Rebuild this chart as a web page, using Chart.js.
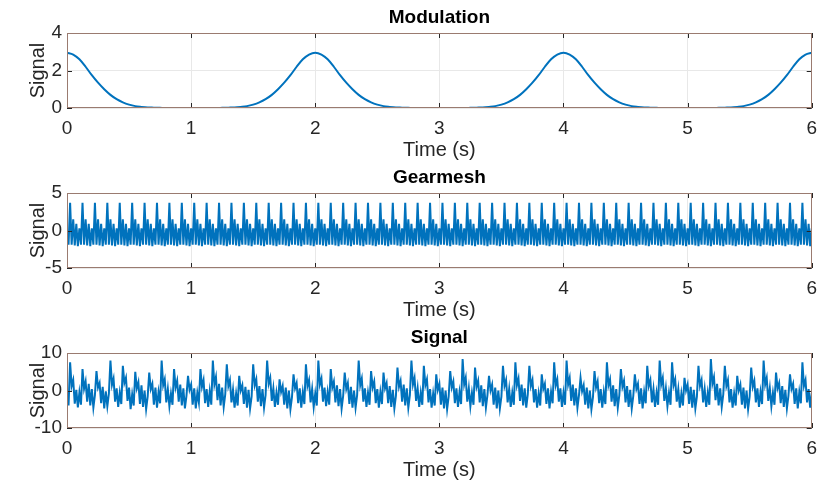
<!DOCTYPE html>
<html lang="en">
<head>
<meta charset="UTF-8">
<title>Modulation, Gearmesh and Signal</title>
<script src="https://cdn.jsdelivr.net/npm/chart.js"></script>
<style>
    body {
        margin: 0;
        background: #fff;
        overflow: hidden;
        font-family: 'Liberation Sans', Arial, sans-serif;
    }
    .panel {
        position: absolute;
        left: 0;
        width: 826px;
        height: 160px;
    }
</style>
</head>
<body>
<div class="panel" style="top:0px"><canvas id="modChart" width="826" height="160"></canvas></div>
<div class="panel" style="top:160px"><canvas id="gearChart" width="826" height="160"></canvas></div>
<div class="panel" style="top:320px"><canvas id="sigChart" width="826" height="160"></canvas></div>

<script>
// time axis (seconds)
const timeStart = 0;
const timeEnd = 6;

// Modulation, sampled every 0.05 s
const modulation = [
    2.95, 2.85, 2.6, 2.2, 1.75, 1.35, 1.0, 0.7, 0.47, 0.3, 0.18, 0.1, 0.06, 0.03, 0.02, 0.01,
    0, 0, 0, 0, 0, 0, 0, 0, 0,
    0.01, 0.02, 0.03, 0.06, 0.1, 0.18, 0.3, 0.47, 0.7, 1.0, 1.35, 1.75, 2.2, 2.6, 2.85, 2.95,
    2.85, 2.6, 2.2, 1.75, 1.35, 1.0, 0.7, 0.47, 0.3, 0.18, 0.1, 0.06, 0.03, 0.02, 0.01,
    0, 0, 0, 0, 0, 0, 0, 0, 0,
    0.01, 0.02, 0.03, 0.06, 0.1, 0.18, 0.3, 0.47, 0.7, 1.0, 1.35, 1.75, 2.2, 2.6, 2.85, 2.95,
    2.85, 2.6, 2.2, 1.75, 1.35, 1.0, 0.7, 0.47, 0.3, 0.18, 0.1, 0.06, 0.03, 0.02, 0.01,
    0, 0, 0, 0, 0, 0, 0, 0, 0,
    0.01, 0.02, 0.03, 0.06, 0.1, 0.18, 0.3, 0.47, 0.7, 1.0, 1.35, 1.75, 2.2, 2.6, 2.85, 2.95
];

// Gearmesh, sampled every 0.0125 s
const gearmesh = [
    0,
    -1.9, 3.7, -1.9, 1.5, -2.0, 0.9, -2.1, 0.3,
    -1.9, 3.7, -1.9, 1.5, -2.0, 0.9, -2.1, 0.3,
    -1.9, 3.7, -1.9, 1.5, -2.0, 0.9, -2.1, 0.3,
    -1.9, 3.7, -1.9, 1.5, -2.0, 0.9, -2.1, 0.3,
    -1.9, 3.7, -1.9, 1.5, -2.0, 0.9, -2.1, 0.3,
    -1.9, 3.7, -1.9, 1.5, -2.0, 0.9, -2.1, 0.3,
    -1.9, 3.7, -1.9, 1.5, -2.0, 0.9, -2.1, 0.3,
    -1.9, 3.7, -1.9, 1.5, -2.0, 0.9, -2.1, 0.3,
    -1.9, 3.7, -1.9, 1.5, -2.0, 0.9, -2.1, 0.3,
    -1.9, 3.7, -1.9, 1.5, -2.0, 0.9, -2.1, 0.3,
    -1.9, 3.7, -1.9, 1.5, -2.0, 0.9, -2.1, 0.3,
    -1.9, 3.7, -1.9, 1.5, -2.0, 0.9, -2.1, 0.3,
    -1.9, 3.7, -1.9, 1.5, -2.0, 0.9, -2.1, 0.3,
    -1.9, 3.7, -1.9, 1.5, -2.0, 0.9, -2.1, 0.3,
    -1.9, 3.7, -1.9, 1.5, -2.0, 0.9, -2.1, 0.3,
    -1.9, 3.7, -1.9, 1.5, -2.0, 0.9, -2.1, 0.3,
    -1.9, 3.7, -1.9, 1.5, -2.0, 0.9, -2.1, 0.3,
    -1.9, 3.7, -1.9, 1.5, -2.0, 0.9, -2.1, 0.3,
    -1.9, 3.7, -1.9, 1.5, -2.0, 0.9, -2.1, 0.3,
    -1.9, 3.7, -1.9, 1.5, -2.0, 0.9, -2.1, 0.3,
    -1.9, 3.7, -1.9, 1.5, -2.0, 0.9, -2.1, 0.3,
    -1.9, 3.7, -1.9, 1.5, -2.0, 0.9, -2.1, 0.3,
    -1.9, 3.7, -1.9, 1.5, -2.0, 0.9, -2.1, 0.3,
    -1.9, 3.7, -1.9, 1.5, -2.0, 0.9, -2.1, 0.3,
    -1.9, 3.7, -1.9, 1.5, -2.0, 0.9, -2.1, 0.3,
    -1.9, 3.7, -1.9, 1.5, -2.0, 0.9, -2.1, 0.3,
    -1.9, 3.7, -1.9, 1.5, -2.0, 0.9, -2.1, 0.3,
    -1.9, 3.7, -1.9, 1.5, -2.0, 0.9, -2.1, 0.3,
    -1.9, 3.7, -1.9, 1.5, -2.0, 0.9, -2.1, 0.3,
    -1.9, 3.7, -1.9, 1.5, -2.0, 0.9, -2.1, 0.3,
    -1.9, 3.7, -1.9, 1.5, -2.0, 0.9, -2.1, 0.3,
    -1.9, 3.7, -1.9, 1.5, -2.0, 0.9, -2.1, 0.3,
    -1.9, 3.7, -1.9, 1.5, -2.0, 0.9, -2.1, 0.3,
    -1.9, 3.7, -1.9, 1.5, -2.0, 0.9, -2.1, 0.3,
    -1.9, 3.7, -1.9, 1.5, -2.0, 0.9, -2.1, 0.3,
    -1.9, 3.7, -1.9, 1.5, -2.0, 0.9, -2.1, 0.3,
    -1.9, 3.7, -1.9, 1.5, -2.0, 0.9, -2.1, 0.3,
    -1.9, 3.7, -1.9, 1.5, -2.0, 0.9, -2.1, 0.3,
    -1.9, 3.7, -1.9, 1.5, -2.0, 0.9, -2.1, 0.3,
    -1.9, 3.7, -1.9, 1.5, -2.0, 0.9, -2.1, 0.3,
    -1.9, 3.7, -1.9, 1.5, -2.0, 0.9, -2.1, 0.3,
    -1.9, 3.7, -1.9, 1.5, -2.0, 0.9, -2.1, 0.3,
    -1.9, 3.7, -1.9, 1.5, -2.0, 0.9, -2.1, 0.3,
    -1.9, 3.7, -1.9, 1.5, -2.0, 0.9, -2.1, 0.3,
    -1.9, 3.7, -1.9, 1.5, -2.0, 0.9, -2.1, 0.3,
    -1.9, 3.7, -1.9, 1.5, -2.0, 0.9, -2.1, 0.3,
    -1.9, 3.7, -1.9, 1.5, -2.0, 0.9, -2.1, 0.3,
    -1.9, 3.7, -1.9, 1.5, -2.0, 0.9, -2.1, 0.3,
    -1.9, 3.7, -1.9, 1.5, -2.0, 0.9, -2.1, 0.3,
    -1.9, 3.7, -1.9, 1.5, -2.0, 0.9, -2.1, 0.3,
    -1.9, 3.7, -1.9, 1.5, -2.0, 0.9, -2.1, 0.3,
    -1.9, 3.7, -1.9, 1.5, -2.0, 0.9, -2.1, 0.3,
    -1.9, 3.7, -1.9, 1.5, -2.0, 0.9, -2.1, 0.3,
    -1.9, 3.7, -1.9, 1.5, -2.0, 0.9, -2.1, 0.3,
    -1.9, 3.7, -1.9, 1.5, -2.0, 0.9, -2.1, 0.3,
    -1.9, 3.7, -1.9, 1.5, -2.0, 0.9, -2.1, 0.3,
    -1.9, 3.7, -1.9, 1.5, -2.0, 0.9, -2.1, 0.3,
    -1.9, 3.7, -1.9, 1.5, -2.0, 0.9, -2.1, 0.3,
    -1.9, 3.7, -1.9, 1.5, -2.0, 0.9, -2.1, 0.3,
    -1.9, 3.7, -1.9, 1.5, -2.0, 0.9, -2.1, 0.3
];

// Signal, sampled every 0.0125 s (one line per main peak)
const signal = [
    -0.5, -4.0,
    7.5, 1.2, 2.8, -3.5, 0.2, -4.5, -0.5, -3.8,
    5.7, 0.5, 2.4, -3.0, 1.8, -4.0, 0.4, -4.6, -1.2,
    5.2, 0.8, 2.0, -3.4, 1.0, -4.8, -0.2, -4.2, -0.8,
    8.0, 1.5, 3.2, -3.0, 0.6, -4.4, -0.6, -3.6,
    6.6, 2.0, 3.4, -2.8, 0.8, -5.0, -1.0, -4.0,
    5.0, 0.6, 2.2, -3.6, 1.4, -4.4, 0.0, -5.0, -1.6,
    4.8, 0.4, 1.8, -3.8, 0.8, -4.6, -0.4, -3.4,
    8.0, 1.4, 3.0, -3.2, 0.4, -4.2, -0.8, -3.8,
    5.7, 0.8, 2.6, -3.0, 1.6, -4.0, 0.6, -4.8, -1.4,
    3.9, 0.2, 1.6, -3.8, 0.6, -4.8, -0.6, -3.2,
    5.7, 1.0, 2.8, -3.4, 0.4, -4.4, -0.2, -3.8,
    8.0, 1.6, 3.6, -2.6, 1.8, -4.0, 0.8, -4.4, -1.0,
    7.0, 1.2, 2.8, -3.2, 0.2, -4.6, -0.8, -4.0,
    3.9, 0.0, 1.4, -3.6, 1.0, -4.6, 0.2, -4.8, -1.6,
    7.0, 1.4, 3.0, -3.0, 1.2, -4.2, 0.4, -4.6, -1.2,
    8.0, 1.8, 3.4, -2.8, 0.6, -4.4, -0.6, -3.8,
    3.0, -0.4, 1.2, -3.8, 0.8, -4.8, 0.0, -5.0, -1.8,
    4.3, 0.6, 2.0, -3.4, 0.6, -4.6, -0.4, -3.6,
    7.0, 1.2, 2.8, -3.2, 0.4, -4.4, -0.8, -4.0,
    8.0, 1.6, 3.2, -3.0, 0.8, -4.2, -0.4, -3.8,
    5.7, 0.8, 2.4, -3.2, 1.4, -4.2, 0.4, -4.8, -1.4,
    4.8, 0.4, 2.0, -3.6, 1.0, -4.6, 0.0, -4.6, -1.2,
    8.0, 1.4, 3.2, -3.0, 0.6, -4.4, -0.6, -3.8,
    5.2, 0.8, 2.4, -3.4, 0.4, -4.6, -0.4, -3.6,
    4.8, 0.6, 2.0, -3.4, 1.2, -4.4, 0.2, -4.8, -1.4,
    6.1, 1.0, 2.6, -3.0, 1.6, -4.0, 0.6, -4.6, -1.2,
    8.0, 1.6, 3.4, -2.8, 0.6, -4.4, -0.6, -3.8,
    6.6, 1.4, 3.0, -3.2, 0.4, -4.6, -0.8, -4.0,
    4.3, 0.2, 1.8, -3.8, 0.8, -4.8, 0.0, -5.0, -1.6,
    5.2, 0.8, 2.4, -3.4, 0.6, -4.4, -0.4, -3.6,
    8.4, 1.6, 3.4, -3.0, 0.6, -4.2, -0.6, -3.8,
    6.1, 1.0, 2.6, -3.2, 1.4, -4.2, 0.4, -4.6, -1.2,
    3.9, 0.0, 1.6, -3.8, 0.8, -4.8, 0.0, -4.8, -1.6,
    6.6, 1.2, 2.8, -3.2, 0.4, -4.4, -0.6, -3.8,
    7.5, 1.4, 3.2, -2.8, 1.6, -4.0, 0.6, -4.6, -1.0,
    6.6, 1.2, 2.8, -3.2, 0.4, -4.6, -0.8, -4.0,
    4.3, 0.4, 1.8, -3.6, 0.6, -4.8, -0.4, -3.4,
    7.5, 1.4, 3.0, -3.0, 0.6, -4.4, -0.6, -3.8,
    8.0, 1.6, 3.4, -2.8, 1.6, -4.0, 0.6, -4.6, -1.2,
    3.4, -0.2, 1.4, -3.8, 0.8, -4.8, 0.0, -5.0, -1.8,
    5.2, 0.8, 2.4, -3.4, 0.4, -4.6, -0.4, -3.6,
    7.5, 1.4, 3.0, -3.0, 1.4, -4.2, 0.4, -4.6, -1.2,
    5.7, 1.0, 2.6, -3.2, 1.2, -4.4, 0.2, -4.8, -1.4,
    4.3, 0.4, 1.8, -3.6, 0.6, -4.8, -0.4, -3.4,
    6.6, 1.2, 2.8, -3.2, 0.4, -4.4, -0.6, -3.8,
    8.0, 1.6, 3.4, -2.8, 0.6, -4.2, -0.6, -3.8,
    7.5, 1.4, 3.0, -3.0, 0.4, -4.6, -0.8, -4.0,
    3.4, 0.0, 1.6, -3.6, 1.0, -4.6, 0.2, -4.8, -1.6,
    6.6, 1.2, 2.8, -3.2, 0.4, -4.4, -0.6, -3.8,
    8.4, 1.8, 3.6, -2.6, 1.8, -4.0, 0.6, -4.4, -1.0,
    6.6, 1.2, 2.8, -3.2, 0.4, -4.6, -0.8, -4.0,
    3.9, 0.0, 1.6, -3.8, 0.8, -4.8, 0.0, -5.0, -1.6,
    6.1, 1.0, 2.6, -3.2, 0.6, -4.4, -0.4, -3.6,
    8.0, 1.6, 3.4, -2.8, 0.6, -4.2, -0.6, -3.8,
    4.8, 0.6, 2.0, -3.4, 1.2, -4.4, 0.2, -4.8, -1.4,
    4.3, 0.4, 1.8, -3.6, 0.6, -4.8, -0.4, -3.4,
    7.5, 1.2, 2.8, -3.2, 0.4, -4.6, -0.6
];

const lineColor = '#0072BD';
const textColor = '#262626';
const gridColor = '#e8e8e8';
const boxColor = '#9a7b70';
const fontFamily = "'Liberation Sans', Arial, sans-serif";

// box around the plot area with MATLAB style inward ticks
const boxPlugin = {
    id: 'matlabBox',
    afterDatasetsDraw(chart) {
        const { ctx, chartArea: a, scales } = chart;
        const tl = 5;
        ctx.save();
        ctx.lineWidth = 1;
        ctx.strokeStyle = textColor;
        ctx.beginPath();
        scales.x.ticks.forEach(t => {
            const px = Math.round(scales.x.getPixelForValue(t.value)) + 0.5;
            ctx.moveTo(px, a.bottom); ctx.lineTo(px, a.bottom - tl);
            ctx.moveTo(px, a.top); ctx.lineTo(px, a.top + tl);
        });
        scales.y.ticks.forEach(t => {
            const py = Math.round(scales.y.getPixelForValue(t.value)) + 0.5;
            ctx.moveTo(a.left, py); ctx.lineTo(a.left + tl, py);
            ctx.moveTo(a.right, py); ctx.lineTo(a.right - tl, py);
        });
        ctx.stroke();
        ctx.strokeStyle = boxColor;
        ctx.strokeRect(Math.round(a.left) + 0.5, Math.round(a.top) + 0.5,
            Math.round(a.width) - 1, Math.round(a.height) - 1);
        ctx.restore();
    }
};

function toPoints(values) {
    const step = (timeEnd - timeStart) / (values.length - 1);
    return values.map((v, i) => ({ x: timeStart + i * step, y: v }));
}

function makePanel(canvasId, title, values, yMin, yMax, yStep, smooth) {
    const ctx = document.getElementById(canvasId).getContext('2d');
    return new Chart(ctx, {
        type: 'line',
        data: {
            datasets: [{
                data: toPoints(values),
                borderColor: lineColor,
                borderWidth: 2,
                pointRadius: 0,
                fill: false,
                cubicInterpolationMode: smooth ? 'monotone' : 'default',
                tension: 0
            }]
        },
        options: {
            responsive: false,
            animation: false,
            layout: { padding: { left: 0, right: 0, top: 0, bottom: 0 } },
            plugins: {
                legend: { display: false },
                tooltip: { enabled: false }
            },
            scales: {
                // top axis only carries the panel title, centred over the plot box
                top: {
                    type: 'linear',
                    position: 'top',
                    min: timeStart,
                    max: timeEnd,
                    afterFit: s => { s.height = 33; },
                    border: { display: false },
                    grid: { display: false, drawTicks: false },
                    ticks: { display: false },
                    title: {
                        display: true,
                        text: title,
                        color: '#000',
                        font: { family: fontFamily, size: 19, weight: 'bold', lineHeight: 1 },
                        padding: { top: 8, bottom: 0 }
                    }
                },
                x: {
                    type: 'linear',
                    min: timeStart,
                    max: timeEnd,
                    afterFit: s => { s.height = 52; },
                    border: { display: false },
                    grid: { color: gridColor, drawTicks: false },
                    ticks: {
                        stepSize: 1,
                        padding: 9,
                        color: textColor,
                        font: { family: fontFamily, size: 19 }
                    },
                    title: {
                        display: true,
                        text: 'Time (s)',
                        color: textColor,
                        font: { family: fontFamily, size: 20, lineHeight: 1 },
                        padding: { top: 0, bottom: 0 }
                    }
                },
                y: {
                    min: yMin,
                    max: yMax,
                    afterFit: s => { s.width = 67; },
                    border: { display: false },
                    grid: { color: gridColor, drawTicks: false },
                    ticks: {
                        stepSize: yStep,
                        padding: 5,
                        color: textColor,
                        font: { family: fontFamily, size: 19 }
                    },
                    title: {
                        display: true,
                        text: 'Signal',
                        color: textColor,
                        font: { family: fontFamily, size: 20, lineHeight: 1 },
                        padding: { top: 28, bottom: 0 }
                    }
                }
            }
        },
        plugins: [boxPlugin]
    });
}

makePanel('modChart', 'Modulation', modulation, 0, 4, 2, true);
makePanel('gearChart', 'Gearmesh', gearmesh, -5, 5, 5, false);
makePanel('sigChart', 'Signal', signal, -10, 10, 10, false);
</script>
</body>
</html>
